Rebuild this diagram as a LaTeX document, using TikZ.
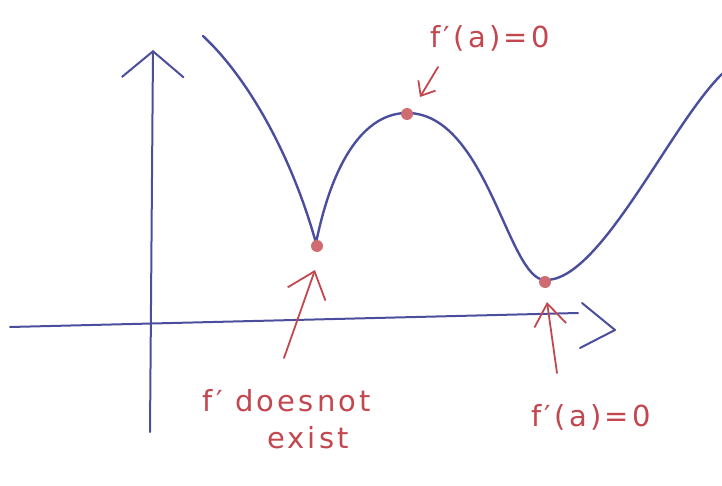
\documentclass[tikz,border=0pt]{standalone}
\usepackage{fontspec}
\usepackage{xcolor}
\usetikzlibrary{positioning, arrows.meta}
\newfontfamily\handfont{DejaVu Sans}[LetterSpace=11]
\definecolor{pen}{HTML}{4A4E9C}
\definecolor{marker}{HTML}{C2474F}

\begin{document}
\begin{tikzpicture}[x=1pt, y=-1pt,
  axis/.style={pen, line width=2pt, line cap=round, line join=round},
  graph/.style={pen, line width=2.4pt, line cap=round, line join=round},
  dot/.style={circle, fill=marker!80, inner sep=0pt, minimum size=12pt},
  note/.style={marker, font=\handfont\fontsize{29}{33}\selectfont, inner sep=0pt},
  pointer/.style={marker, line width=1.8pt, line cap=round}
]
  \useasboundingbox (0,0) rectangle (722,486);

  % axes
  \coordinate (xfrom) at (10,327);
  \coordinate (xto) at (578,313);
  \coordinate (yfrom) at (150,432);
  \coordinate (yto) at (153,50);
  \draw[axis, -{Straight Barb[length=26pt, width=62pt]}] (yfrom) -- (yto);
  \draw[axis] (xfrom) -- (xto);
  \draw[axis] (582,303) -- (615,330) -- (580,348);

  % the function
  \coordinate (start) at (203,36);
  \coordinate (corner) at (316,243);
  \coordinate (top) at (407,113);
  \coordinate (bottom) at (545,280);
  \coordinate (finish) at (722,74);
  \draw[graph] (start) .. controls (245,75) and (290,150) .. (corner)
    .. controls (335,150) and (370,113) .. (top)
    .. controls (487,113) and (508,280) .. (bottom)
    .. controls (600,282) and (670,125) .. (finish);

  % marked points
  \node[dot] (cusp) at (317,246) {};
  \node[dot] (peak) at (407,114) {};
  \node[dot] (valley) at (545,282) {};

  % pointers
  \coordinate (cusptail) at (284,358);
  \coordinate (cusptip) at (315,270);
  \coordinate (peaktail) at (438,67);
  \coordinate (peaktip) at (420,97);
  \coordinate (valleytail) at (557,373);
  \coordinate (valleytip) at (547,302);
  \draw[pointer, -{Straight Barb[length=24pt, width=40pt]}] (cusptail) -- (cusptip);
  \draw[pointer, -{Straight Barb[length=12pt, width=20pt]}] (peaktail) -- (peaktip);
  \draw[pointer, -{Straight Barb[length=22pt, width=32pt]}] (valleytail) -- (valleytip);

  % labels
  \node[note] (peaklabel) at (490,38) {f′(a)=0};
  \node[note] (cusplabel) at (287,401) {f′ doesnot};
  \node[note, below=14pt of cusplabel, xshift=21pt] (existlabel) {exist};
  \node[note] (valleylabel) at (591,417) {f′(a)=0};
\end{tikzpicture}
\end{document}
